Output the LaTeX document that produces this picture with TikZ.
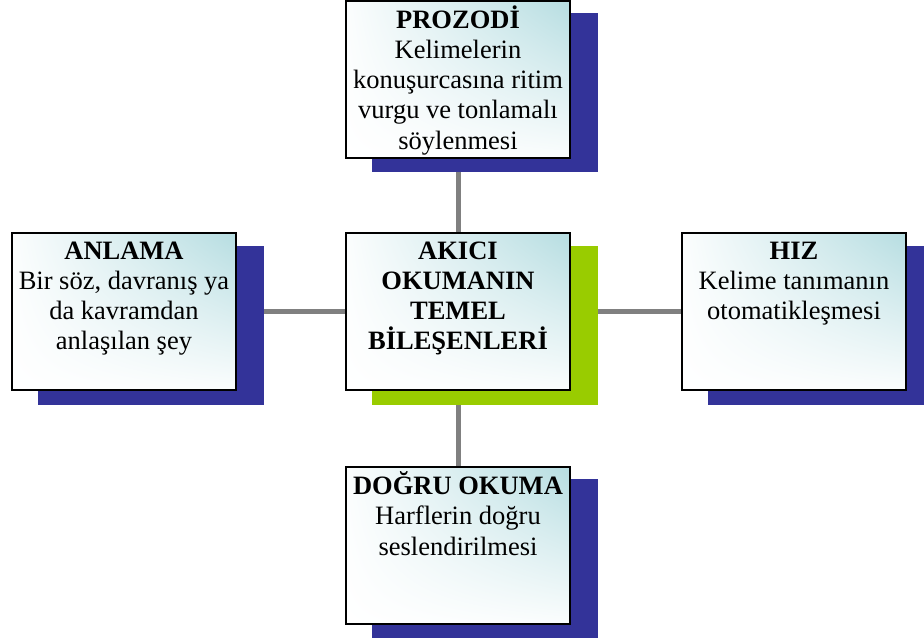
\documentclass[tikz,border=0pt]{standalone}
\usepackage{fontspec}
\setmainfont{Liberation Serif}
\usetikzlibrary{shadings}
\definecolor{shadowblue}{HTML}{333399}
\definecolor{shadowgreen}{HTML}{99CC00}
\definecolor{tealc}{HTML}{B6DDE1}
\definecolor{linegray}{HTML}{808080}
\pgfdeclarelayer{lines}
\pgfdeclarelayer{shadows}
\pgfsetlayers{lines,shadows,main}
\begin{document}
\begin{tikzpicture}[x=1pt,y=-1pt,
  box/.style={shade, draw=black, line width=2pt, minimum width=224pt, minimum height=157pt, inner sep=0pt,
    upper right=tealc, lower right=tealc!6, upper left=tealc!5, lower left=white},
  txt/.style={anchor=north, inner sep=0pt, align=center, font=\fontsize{26.5}{30.2}\selectfont},
  conn/.style={draw=linegray, line width=5pt},
  shad/.style={xshift=27pt, yshift=-13.5pt}]
\useasboundingbox (0,0) rectangle (924,641);
\clip (0,0) rectangle (924,641);
\node[box] (p) at (458,79) {};
\node[box] (a) at (124,311.5) {};
\node[box] (c) at (458,311.5) {};
\node[box] (h) at (794,311.5) {};
\node[box] (d) at (458,545) {};
\begin{pgfonlayer}{lines}
\draw[conn] (c.center) -- (p.center);
\draw[conn] (c.center) -- (a.center);
\draw[conn] (c.center) -- (h.center);
\draw[conn] (c.center) -- (d.center);
\end{pgfonlayer}
\begin{pgfonlayer}{shadows}
\fill[shadowblue] ([shad]p.south west) rectangle ([shad]p.north east);
\fill[shadowblue] ([shad]a.south west) rectangle ([shad]a.north east);
\fill[shadowgreen] ([shad]c.south west) rectangle ([shad]c.north east);
\fill[shadowblue] ([shad]h.south west) rectangle ([shad]h.north east);
\fill[shadowblue] ([shad]d.south west) rectangle ([shad]d.north east);
\end{pgfonlayer}
\node[txt] (pt) at ([yshift=-5.9pt]p.north) {\strut\textbf{PROZODİ}\\Kelimelerin\\konuşurcasına ritim\\vurgu ve tonlamalı\\söylenmesi};
\node[txt] (at) at ([yshift=-5.9pt]a.north) {\strut\textbf{ANLAMA}\\Bir söz, davranış ya\\da kavramdan\\anlaşılan şey};
\node[txt, font=\fontsize{26.5}{30.2}\selectfont\bfseries] (ct) at ([yshift=-5.9pt]c.north) {\strut AKICI\\OKUMANIN\\TEMEL\\BİLEŞENLERİ};
\node[txt] (ht) at ([yshift=-5.9pt]h.north) {\strut\textbf{HIZ}\\Kelime tanımanın\\otomatikleşmesi};
\node[txt] (dt) at ([yshift=-5.9pt]d.north) {\strut\textbf{DOĞRU OKUMA}\\Harflerin doğru\\seslendirilmesi};
\end{tikzpicture}
\end{document}
